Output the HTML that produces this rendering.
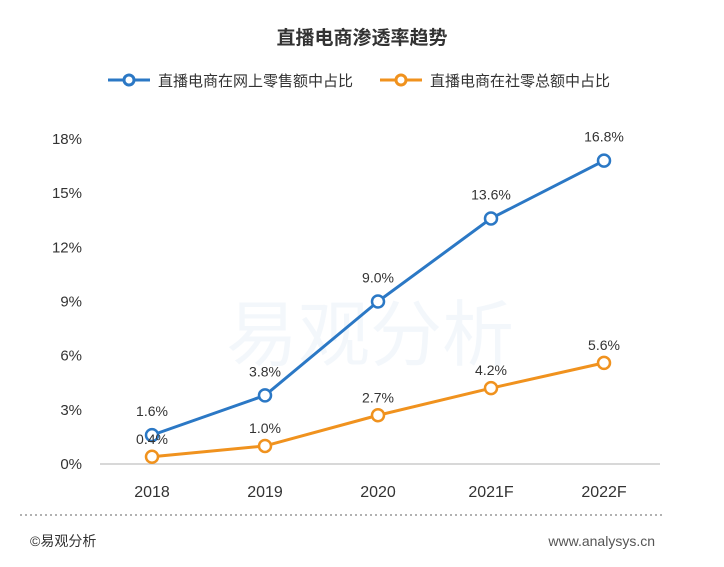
<!DOCTYPE html>
<html><head><meta charset="utf-8"><style>
body{margin:0;background:#fff;width:724px;height:562px;overflow:hidden;font-family:"Liberation Sans","Noto Sans CJK SC",sans-serif;}
</style></head><body>
<svg id="chart" width="724" height="562" xmlns="http://www.w3.org/2000/svg" font-family="Liberation Sans, Noto Sans CJK SC, sans-serif">
<text x="362" y="44" text-anchor="middle" font-size="19" font-weight="bold" fill="#333">直播电商渗透率趋势</text>
<g>
<line x1="108" y1="80" x2="150" y2="80" stroke="#2b78c5" stroke-width="3"/>
<circle cx="129" cy="80" r="5" fill="#fff" stroke="#2b78c5" stroke-width="3"/>
<text x="158" y="86" font-size="15" fill="#333">直播电商在网上零售额中占比</text>
<line x1="380" y1="80" x2="422" y2="80" stroke="#f0921e" stroke-width="3"/>
<circle cx="401" cy="80" r="5" fill="#fff" stroke="#f0921e" stroke-width="3"/>
<text x="430" y="86" font-size="15" fill="#333">直播电商在社零总额中占比</text>
</g>
<text x="370" y="360" text-anchor="middle" font-size="72" fill="#2b78c5" opacity="0.05">易观分析</text>
<g id="axes"></g>
<g id="marks"></g>
<line x1="20" y1="515" x2="664" y2="515" stroke="#999" stroke-width="1.5" stroke-dasharray="2,3"/>
<text x="30" y="546" font-size="14" fill="#333">©易观分析</text>
<text x="655" y="546" text-anchor="end" font-size="14" fill="#555">www.analysys.cn</text>
</svg>
<script>
const categories=["2018","2019","2020","2021F","2022F"];
const onlineShare=[1.6,3.8,9.0,13.6,16.8];
const totalShare=[0.4,1.0,2.7,4.2,5.6];
const yTicks=[0,3,6,9,12,15,18];
const NS="http://www.w3.org/2000/svg";
const x=i=>152+i*113;
const y=v=>464-v*(325/18);
function mk(tag,attrs,parent,text){const e=document.createElementNS(NS,tag);for(const k in attrs)e.setAttribute(k,attrs[k]);if(text!==undefined)e.textContent=text;parent.appendChild(e);return e;}
const axes=document.getElementById('axes'),marks=document.getElementById('marks');
const ax=mk('line',{x1:100,y1:464,x2:660,y2:464,stroke:'#ccc','stroke-width':1.5},axes);


yTicks.forEach(t=>{const e=mk('text',{x:82,y:y(t)+5,'text-anchor':'end','font-size':15,fill:'#333'},axes,t+'%');

});
categories.forEach((c,i)=>{const e=mk('text',{x:x(i),y:497,'text-anchor':'middle','font-size':16,fill:'#333'},axes,c);

});
function series(vals,color,name,labelDy){
const p=mk('polyline',{points:vals.map((v,i)=>x(i)+','+y(v)).join(' '),fill:'none',stroke:color,'stroke-width':3},marks);


vals.forEach((v,i)=>{const c=mk('circle',{cx:x(i),cy:y(v),r:6,fill:'#fff',stroke:color,'stroke-width':2.5},marks);


const t=mk('text',{x:x(i),y:y(v)+labelDy,'text-anchor':'middle','font-size':14,fill:'#333'},marks,v.toFixed(1)+'%');

});
}
series(onlineShare,'#2b78c5','online-share',-19);
series(totalShare,'#f0921e','total-share',-13);
</script>
</body></html>
